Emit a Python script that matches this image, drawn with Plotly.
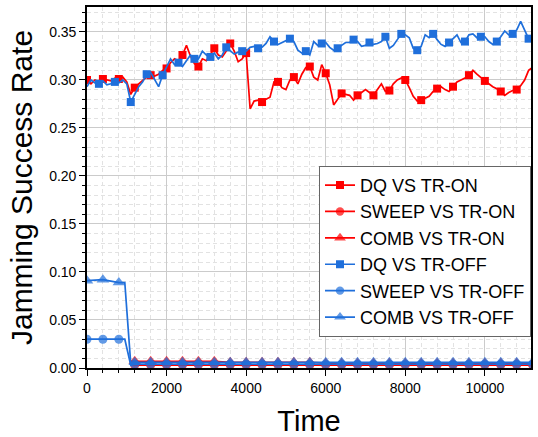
import plotly.graph_objects as go

# ---------------- data ----------------
t_up = list(range(0, 11300, 100))  # 0 .. 11200

dq_on = [
    0.300, 0.296, 0.300, 0.298, 0.301, 0.300, 0.299, 0.302, 0.301, 0.303,
    0.298, 0.285, 0.292, 0.296, 0.300, 0.303, 0.305, 0.304, 0.306, 0.310,
    0.312, 0.318, 0.322, 0.320, 0.326, 0.336, 0.325, 0.317, 0.314, 0.322,
    0.320, 0.326, 0.333, 0.326, 0.324, 0.330, 0.338, 0.330, 0.319, 0.322,
    0.328, 0.270, 0.278, 0.279, 0.277, 0.280, 0.282, 0.298, 0.298, 0.292,
    0.290, 0.300, 0.303, 0.296, 0.306, 0.313, 0.314, 0.303, 0.300, 0.316,
    0.307, 0.295, 0.274, 0.280, 0.286, 0.285, 0.284, 0.279, 0.284, 0.287,
    0.290, 0.287, 0.284, 0.290, 0.296, 0.288, 0.289, 0.296, 0.300, 0.302,
    0.300, 0.292, 0.283, 0.278, 0.279, 0.281, 0.283, 0.288, 0.291, 0.293,
    0.290, 0.288, 0.293, 0.298, 0.300, 0.302, 0.305, 0.310, 0.306, 0.302,
    0.299, 0.296, 0.293, 0.291, 0.288, 0.284, 0.287, 0.289, 0.290, 0.294,
    0.300, 0.310, 0.313,
]

dq_off = [
    0.293, 0.300, 0.297, 0.296, 0.299, 0.295, 0.296, 0.298, 0.297, 0.300,
    0.296, 0.277, 0.285, 0.293, 0.298, 0.306, 0.308, 0.300, 0.293, 0.305,
    0.314, 0.322, 0.316, 0.318, 0.314, 0.320, 0.326, 0.322, 0.322, 0.330,
    0.326, 0.324, 0.328, 0.322, 0.326, 0.334, 0.330, 0.327, 0.329, 0.330,
    0.330, 0.334, 0.335, 0.333, 0.334, 0.338, 0.345, 0.340, 0.337, 0.339,
    0.341, 0.343, 0.340, 0.331, 0.328, 0.330, 0.326, 0.340, 0.336, 0.338,
    0.339, 0.334, 0.331, 0.333, 0.336, 0.339, 0.339, 0.342, 0.340, 0.335,
    0.336, 0.339, 0.337, 0.338, 0.340, 0.345, 0.333, 0.336, 0.342, 0.348,
    0.347, 0.344, 0.333, 0.331, 0.335, 0.347, 0.344, 0.348, 0.342, 0.337,
    0.335, 0.339, 0.342, 0.347, 0.339, 0.340, 0.347, 0.348, 0.344, 0.345,
    0.345, 0.340, 0.337, 0.340, 0.345, 0.351, 0.347, 0.348, 0.352, 0.361,
    0.352, 0.343, 0.344,
]

t_low = [0, 400, 800, 950, 1100, 1200, 1600, 2000, 2400, 2800, 3200, 3600,
         4000, 4400, 4800, 5200, 5600, 6000, 6400, 6800, 7200, 7600, 8000,
         8400, 8800, 9200, 9600, 10000, 10400, 10800, 11200]

sweep_on = [None, None, None, None, 0.003, 0.003, 0.003, 0.003, 0.003, 0.003,
            0.003, 0.003, 0.003, 0.003, 0.003, 0.003, 0.003, 0.003, 0.003, 0.003,
            0.003, 0.003, 0.003, 0.003, 0.003, 0.003, 0.003, 0.003, 0.003, 0.003,
            0.003]
comb_on = [None, None, None, None, 0.007, 0.007, 0.007, 0.007, 0.007, 0.007,
           0.007, 0.006, 0.006, 0.006, 0.006, 0.006, 0.006, 0.005, 0.005, 0.005,
           0.005, 0.005, 0.005, 0.005, 0.005, 0.005, 0.005, 0.005, 0.005, 0.005,
           0.005]
sweep_off = [0.030, 0.030, 0.030, 0.030, 0.003, 0.004, 0.004, 0.004, 0.004, 0.004,
             0.004, 0.004, 0.004, 0.004, 0.004, 0.004, 0.004, 0.004, 0.004, 0.004,
             0.004, 0.004, 0.004, 0.004, 0.004, 0.004, 0.004, 0.004, 0.004, 0.004,
             0.004]
comb_off = [0.091, 0.092, 0.089, 0.089, 0.004, 0.006, 0.006, 0.006, 0.006, 0.006,
            0.006, 0.006, 0.006, 0.006, 0.006, 0.006, 0.006, 0.006, 0.006, 0.006,
            0.006, 0.006, 0.006, 0.006, 0.006, 0.006, 0.006, 0.006, 0.006, 0.006,
            0.006]

series = [
    ("DQ VS TR-ON", t_up, dq_on, "square", "red"),
    ("SWEEP VS TR-ON", t_low, sweep_on, "circle", "red"),
    ("COMB VS TR-ON", t_low, comb_on, "triangle-up", "red"),
    ("DQ VS TR-OFF", t_up, dq_off, "square", "blue"),
    ("SWEEP VS TR-OFF", t_low, sweep_off, "circle", "blue"),
    ("COMB VS TR-OFF", t_low, comb_off, "triangle-up", "blue"),
]

# ---------------- styling ----------------
COLORS = {"red": "#FF0000", "blue": "#1F6FDB"}
SIZES = {"square": 8, "circle": 9, "triangle-up": 11}

fig = go.Figure()
for name, xs, ys, sym, col in series:
    if xs is t_up:
        marker = dict(symbol=sym, size=SIZES[sym], color=COLORS[col],
                      line=dict(width=0), maxdisplayed=28)
    else:
        sizes = [0 if x in (950, 1100) else SIZES[sym] for x in xs]
        marker = dict(symbol=sym, size=sizes, color=COLORS[col], line=dict(width=0))
    fig.add_trace(go.Scatter(
        x=xs, y=ys, name=name, mode="lines+markers",
        line=dict(color=COLORS[col], width=1.7),
        marker=marker,
    ))

fig.update_layout(
    width=538, height=437,
    margin=dict(l=87, r=5, t=7, b=69),
    paper_bgcolor="white", plot_bgcolor="white",
    font=dict(family="Liberation Sans, Arial, sans-serif", color="black"),
    showlegend=True,
    legend=dict(
        x=1.0, xanchor="right", y=0.56, yanchor="top",
        bgcolor="white", bordercolor="#666666", borderwidth=1,
        font=dict(size=18, color="black"),
        itemsizing="trace", tracegroupgap=0,
    ),
)

fig.update_xaxes(
    range=[0, 11160], dtick=2000, tick0=0, tickformat="d",
    showline=True, linecolor="black", linewidth=1.6, mirror=True,
    ticks="outside", ticklen=6, tickwidth=1.4, tickcolor="black",
    tickfont=dict(size=14),
    showgrid=True, gridcolor="#CBCBCB", gridwidth=1,
    zeroline=False,
    minor=dict(dtick=400, ticks="outside", ticklen=3, tickcolor="black",
               showgrid=True, gridcolor="#E2E2E2", griddash="4px,3px", gridwidth=1),
    title=dict(text="Time", font=dict(size=29), standoff=16),
)
fig.update_yaxes(
    range=[0, 0.376], dtick=0.05, tick0=0, tickformat=".2f",
    showline=True, linecolor="black", linewidth=1.6, mirror=True,
    ticks="outside", ticklen=6, tickwidth=1.4, tickcolor="black",
    tickfont=dict(size=14),
    showgrid=True, gridcolor="#CBCBCB", gridwidth=1,
    zeroline=False,
    minor=dict(dtick=0.01, ticks="outside", ticklen=3, tickcolor="black",
               showgrid=True, gridcolor="#E2E2E2", griddash="4px,3px", gridwidth=1),
    title=dict(text="Jamming Success Rate", font=dict(size=30), standoff=8),
)

fig.write_html("out.html")
